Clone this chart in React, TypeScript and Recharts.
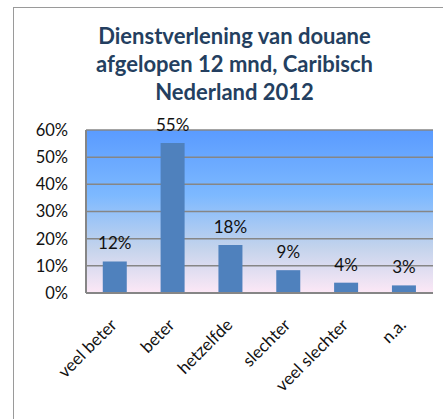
import { BarChart, Bar, XAxis, YAxis, CartesianGrid, LabelList } from 'recharts';

const categories = ['veel beter', 'beter', 'hetzelfde', 'slechter', 'veel slechter', 'n.a.'];
const shares = [11.6, 55.2, 17.7, 8.4, 3.8, 2.8];
const shareLabels = ['12%', '55%', '18%', '9%', '4%', '3%'];
const yTicks = [0, 10, 20, 30, 40, 50, 60];

const data = categories.map((name, i) => ({ name, value: shares[i], label: shareLabels[i] }));

const font = 'Lato, "Open Sans", sans-serif';

function XTick(props: any) {
  const { x, y, payload } = props;
  const ax = x + 3;
  const ay = y + 25;
  return (
    <text
      x={ax}
      y={ay}
      transform={`rotate(-45, ${ax}, ${ay})`}
      textAnchor="end"
      fontSize={17}
      fontFamily={font}
      fill="#111"
    >
      {payload.value}
    </text>
  );
}

export default function App() {
  return (
    <div style={{ position: 'absolute', left: 0, top: 0, width: 443, height: 419, overflow: 'hidden', background: '#fff' }}>
      <div
        style={{
          position: 'absolute', left: 13, top: 7, width: 480, height: 440,
          border: '1px solid #9a9a9a',
        }}
      />
      <div
        style={{
          position: 'absolute', left: 13, top: 22, width: 443, textAlign: 'center',
          fontFamily: font, fontWeight: 'bold', fontSize: 22, lineHeight: '28px', color: '#243F60',
        }}
      >
        Dienstverlening van douane<br />afgelopen 12 mnd, Caribisch<br />Nederland 2012
      </div>
      <div style={{ position: 'absolute', left: 0, top: 0 }}>
        <BarChart
          width={443}
          height={419}
          data={data}
          margin={{ top: 130, right: 10, bottom: 26, left: 26 }}
          barCategoryGap="29%"
        >
          <defs>
            <linearGradient id="plotBg" x1="0" y1="0" x2="0" y2="1">
              <stop offset="0%" stopColor="#5A9BFF" />
              <stop offset="40%" stopColor="#7DB9FF" />
              <stop offset="72%" stopColor="#C3D3EC" />
              <stop offset="100%" stopColor="#FDE8F6" />
            </linearGradient>
          </defs>
          <CartesianGrid vertical={false} stroke="#868686" strokeWidth={1.5} fill="url(#plotBg)" fillOpacity={1} />
          <XAxis
            dataKey="name"
            height={100}
            interval={0}
            tickLine={false}
            axisLine={{ stroke: '#868686', strokeWidth: 2 }}
            tick={<XTick />}
          />
          <YAxis
            width={60}
            domain={[0, 60]}
            ticks={yTicks}
            tickFormatter={(v: number) => `${v}%`}
            tickLine={false}
            tickSize={0}
            tickMargin={18}
            axisLine={{ stroke: '#868686', strokeWidth: 2 }}
            tick={{ fontSize: 16.5, fontFamily: font, fill: '#111' }}
          />
          <Bar dataKey="value" fill="#4F81BD" isAnimationActive={false}>
            <LabelList dataKey="label" position="top" offset={12} fontSize={17} fontFamily={font} fill="#111" />
          </Bar>
        </BarChart>
      </div>
    </div>
  );
}
